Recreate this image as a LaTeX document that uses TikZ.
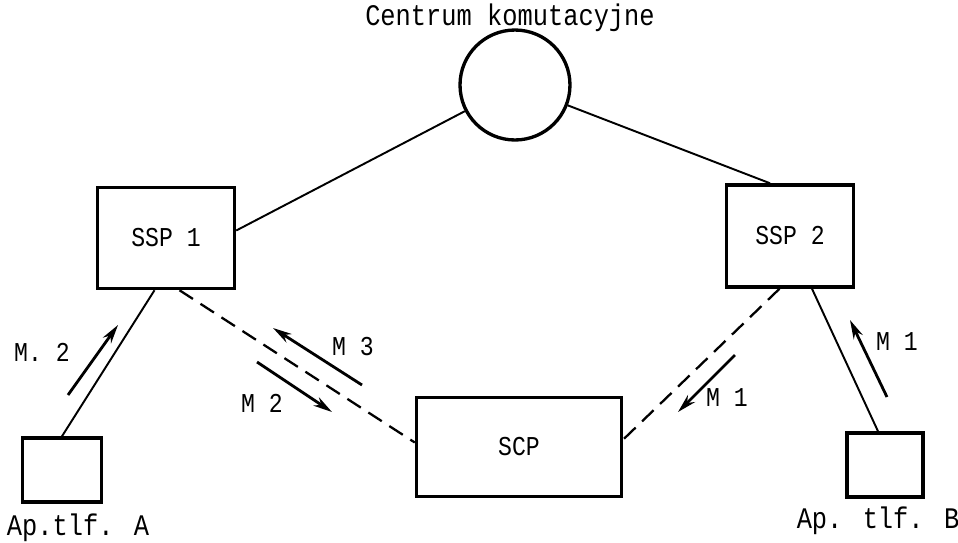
\documentclass[tikz,border=0pt]{standalone}
\usepackage{fontspec}
\usetikzlibrary{arrows.meta}
\newfontfamily\maszyna[FakeStretch=0.85]{Liberation Mono}

\begin{document}
\begin{tikzpicture}[x=0.02cm,y=-0.02cm,
    blok/.style={draw,line width=2pt,inner sep=0pt},
    lacze/.style={line width=1.1pt},
    kreski/.style={line width=1.3pt,dash pattern=on 0.32cm off 0.18cm},
    komunikat/.style={line width=1.6pt,-{Stealth[length=0.38cm,width=0.2cm]}},
    napis/.style={font=\maszyna\fontsize{15.5}{17}\selectfont,inner sep=0pt},
    duzy/.style={font=\maszyna\fontsize{17}{19}\selectfont,inner sep=0pt}]

    % tlo
    \useasboundingbox[fill=white] (0,0) rectangle (958,542);

    % centrala
    \node[duzy] (tytul) at (510,18) {Centrum komutacyjne};
    \node[circle,draw,line width=1.9pt,minimum size=2.2cm] (centrum) at (515,85) {};

    % bloki SSP, SCP
    \node[blok,napis,minimum width=2.74cm,minimum height=2.02cm] (ssp1) at (166,238) {SSP 1};
    \node[blok,napis,minimum width=2.54cm,minimum height=2.04cm] (ssp2) at (790,236) {SSP 2};
    \node[blok,napis,minimum width=4.1cm,minimum height=1.98cm] (scp) at (519,447) {SCP};

    % aparaty
    \node[blok,minimum width=1.58cm,minimum height=1.28cm] (apa) at (62,470) {};
    \node[blok,minimum width=1.52cm,minimum height=1.28cm] (apb) at (885,465) {};
    \node[duzy] (apa-opis) at (78,528) {Ap.tlf. A};
    \node[duzy] (apb-opis) at (878,521) {Ap. tlf. B};

    % polaczenia
    \draw[lacze] ([yshift=0.15cm]ssp1.east) -- (centrum);
    \draw[lacze] (centrum) -- ([xshift=-0.4cm]ssp2.north);
    \draw[lacze] ([xshift=-0.23cm]ssp1.south) -- (apa.north);
    \draw[lacze] ([xshift=0.44cm]ssp2.south) -- ([xshift=-0.14cm]apb.north);
    \draw[kreski] ([xshift=0.27cm]ssp1.south) -- ([yshift=0.09cm]scp.west);
    \draw[kreski] ([xshift=-0.21cm]ssp2.south) -- ([yshift=0.15cm]scp.east);

    % komunikaty
    \foreach \p/\q/\tekst/\r [count=\i] in {
        {(68,395)}/{(118,325)}/{M. 2}/{(42,352)},
        {(362,385)}/{(273,328)}/{M 3}/{(353,347)},
        {(257,362)}/{(332,412)}/{M 2}/{(262,403)},
        {(735,355)}/{(678,412)}/{M 1}/{(727,398)},
        {(887,397)}/{(850,320)}/{M 1}/{(897,342)}}
    {
        \draw[komunikat] \p -- \q;
        \node[napis] (m\i) at \r {\tekst};
    }
\end{tikzpicture}
\end{document}
